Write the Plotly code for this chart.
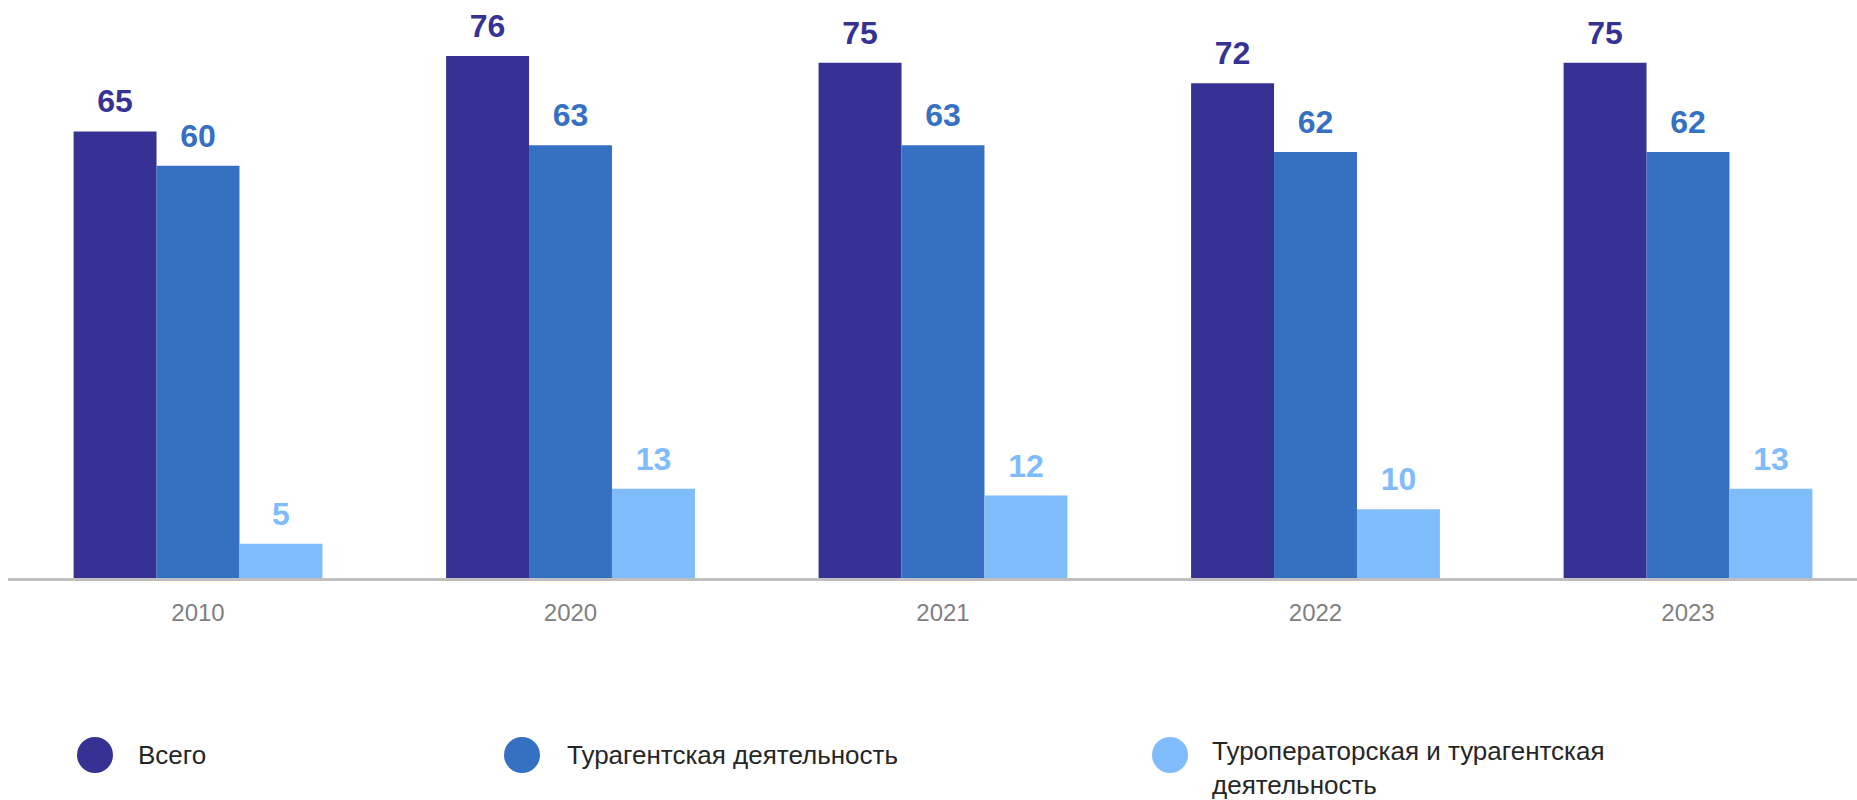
import plotly.graph_objects as go

years = ["2010", "2020", "2021", "2022", "2023"]
series_names = ["Всего", "Турагентская деятельность", "Туроператорская и турагентская<br>деятельность"]
total = [65, 76, 75, 72, 75]
agent = [60, 63, 63, 62, 62]
operator_agent = [5, 13, 12, 10, 13]
colors = ["#363294", "#3670C2", "#80BBFB"]

W, H = 1857, 800
L, R, T, B = 8, 0, 0, 222
plot_w = W - L - R
plot_h = H - T - B

all_series = [total, agent, operator_agent]

fig = go.Figure()
for k, (name, vals, col) in enumerate(zip(series_names, all_series, colors)):
    fig.add_trace(go.Bar(
        x=years, y=vals, name=name, offsetgroup=str(k),
        marker=dict(color=col, line=dict(width=0)),
        showlegend=False, hoverinfo="skip",
    ))
# value labels, aligned with the grouped bars
for k, (name, vals, col) in enumerate(zip(series_names, all_series, colors)):
    fig.add_trace(go.Scatter(
        x=years, y=vals, mode="markers+text", offsetgroup=str(k),
        text=[f"<b>{v}</b>" for v in vals], textposition="top center",
        marker=dict(size=16, opacity=0, color=col),
        textfont=dict(family="Liberation Sans, Arial", size=32, color=col),
        showlegend=False, hoverinfo="skip", cliponaxis=False,
    ))

# legend (manual, large circles)
def px_to_paper_x(px):
    return (px - L) / plot_w

def px_to_paper_y(py):
    return (H - B - py) / plot_h

legend_items = [
    (95, 136, 755),
    (522, 565, 755),
    (1170, 1210, 755),
]
d = 36
for (cx, tx, cy), name, col in zip(legend_items, series_names, colors):
    fig.add_shape(
        type="circle", xref="paper", yref="paper",
        x0=px_to_paper_x(cx - d / 2), x1=px_to_paper_x(cx + d / 2),
        y0=px_to_paper_y(cy + d / 2), y1=px_to_paper_y(cy - d / 2),
        fillcolor=col, line=dict(width=0),
    )
    multi = "<br>" in name
    fig.add_annotation(
        x=px_to_paper_x(tx), y=px_to_paper_y(cy - 21 if multi else cy),
        xref="paper", yref="paper", text=name, showarrow=False,
        xanchor="left", yanchor="top" if multi else "middle", align="left",
        font=dict(family="Liberation Sans, Arial", size=26, color="#262626"),
    )

# axis ranges: category centers at 198 and 1688 px
px_per_unit = (1688 - 198) / 4
r0 = -(198 - L) / px_per_unit
r1 = r0 + plot_w / px_per_unit
y_px_per_unit = 6.87
ymax = plot_h / y_px_per_unit

fig.update_layout(
    width=W, height=H,
    margin=dict(l=L, r=R, t=T, b=B, pad=0),
    barmode="group", bargap=0.332, bargroupgap=0,
    scattermode="group", scattergap=0.332,
    plot_bgcolor="white", paper_bgcolor="white",
    xaxis=dict(
        type="category", range=[r0, r1], showgrid=False, zeroline=False,
        showline=True, linecolor="#BFBFBF", linewidth=3,
        ticks="outside", ticklen=11, tickcolor="rgba(0,0,0,0)",
        tickfont=dict(family="Liberation Sans, Arial", size=24, color="#808080"),
    ),
    yaxis=dict(range=[0, ymax], showticklabels=False, ticks="",
               showgrid=False, zeroline=False, showline=False),
)

fig.write_html("out.html", config={"displayModeBar": False},
               post_script="document.body.style.margin='0';document.body.style.overflow='hidden';")
